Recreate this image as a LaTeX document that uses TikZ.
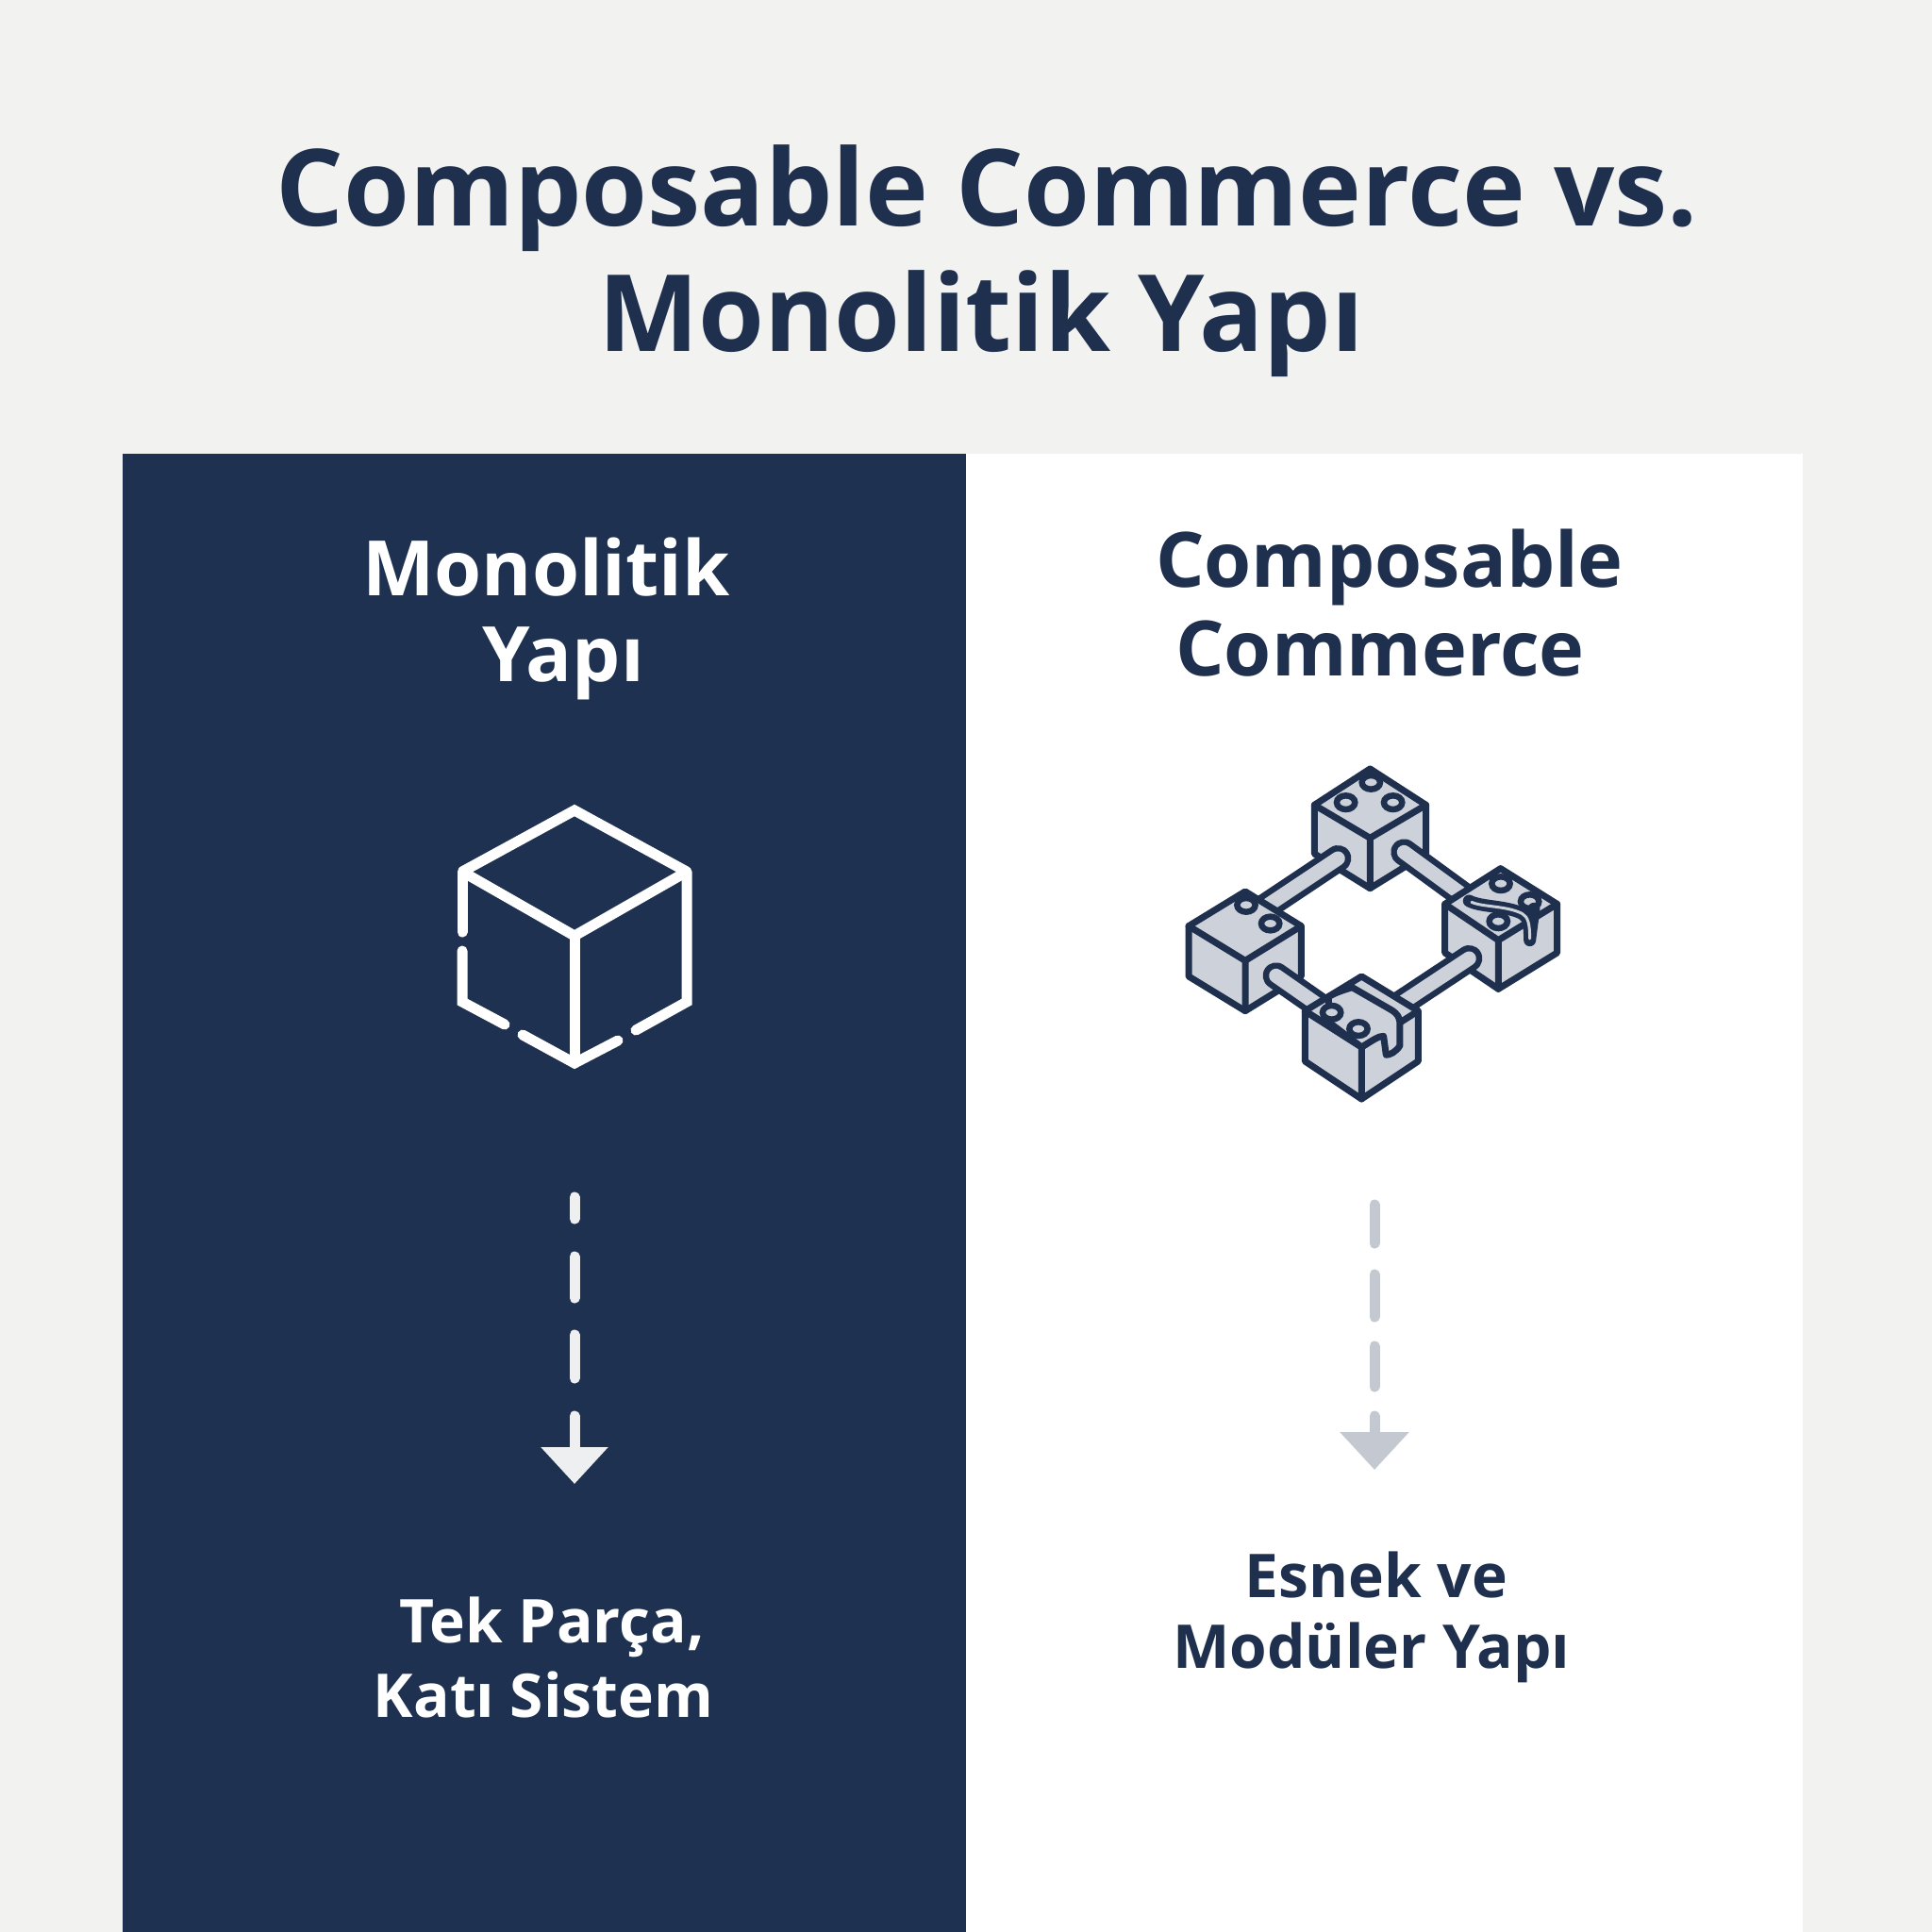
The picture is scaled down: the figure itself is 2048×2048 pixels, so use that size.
\documentclass[tikz,border=0pt]{standalone}
\usepackage{fontspec}
\usetikzlibrary{arrows.meta}
\setmainfont{Open Sans}
\definecolor{bgc}{HTML}{F2F2F1}
\definecolor{navy}{HTML}{1F3150}
\definecolor{ink}{HTML}{1F304F}
\definecolor{facec}{HTML}{CDD1D9}
\definecolor{arrowgray}{HTML}{C4C8D0}
\definecolor{arrowwhite}{HTML}{EEEFF1}
\newcommand{\cubeblock}[7]{%
 \draw[blockline,fill=facec] #1 -- #2 -- #3 -- #7 -- #5 -- #6 -- cycle;
 \draw[blockline] #1 -- #4 -- #3 #4 -- #5;
}
\newcommand{\studat}[1]{\draw[studline] #1 ellipse [x radius=29, y radius=22];}
\newcommand{\rodbetween}[2]{%
 \draw[rodouter] #1 -- #2;
 \draw[rodinner] #1 -- #2;
}
\tikzset{
 ttl/.style={font=\fontsize{113}{113}\selectfont\bfseries,text=ink,anchor=base,inner sep=0},
 hd/.style={font=\fontsize{81}{81}\selectfont\bfseries,anchor=base,inner sep=0},
 sub/.style={font=\fontsize{64}{64}\selectfont\bfseries,anchor=base,inner sep=0},
 whiteline/.style={draw=white,line width=11pt,line cap=round,line join=miter,miter limit=1.5},
 blockline/.style={draw=ink,line width=7pt,line join=round,line cap=round},
 studline/.style={draw=ink,line width=6.5pt,fill=facec},
 rodouter/.style={draw=ink,line width=28pt,line cap=round},
 rodinner/.style={draw=facec,line width=15pt,line cap=round},
 flowL/.style={draw=arrowwhite,line width=11pt,line cap=round,dash pattern=on 23pt off 40pt on 44pt off 39pt on 46pt off 40pt on 40pt},
 flowR/.style={draw=arrowgray,line width=11pt,line cap=round,dash pattern=on 41pt off 33pt on 45pt off 31pt on 43pt off 31pt on 40pt},
}
\begin{document}
\begin{tikzpicture}[x=1pt,y=-1pt]
\useasboundingbox (0,0) rectangle (2048,2048);
\fill[bgc] (0,0) rectangle (2048,2048);
\fill[navy] (130,481) rectangle (1024,2048);
\fill[white] (1024,481) rectangle (1911,2048);
\node[ttl] (t1) at (1046,239) {Composable Commerce vs.};
\node[ttl] (t2) at (1040,372) {Monolitik Yapı};
\node[hd,text=white] (l1) at (579,631) {Monolitik};
\node[hd,text=white] (l2) at (597,722) {Yapı};
\node[hd,text=ink] (r1) at (1473,622) {Composable};
\node[hd,text=ink] (r2) at (1463,716) {Commerce};
\node[sub,text=white] (l3) at (585,1741) {Tek Parça,};
\node[sub,text=white] (l4) at (576,1820) {Katı Sistem};
\node[sub,text=ink] (r3) at (1459,1693) {Esnek ve};
\node[sub,text=ink] (r4) at (1454,1768) {Modüler Yapı};
% monolith cube
\coordinate (cT) at (609,859);
\coordinate (cL) at (490,924);
\coordinate (cR) at (728,924);
\coordinate (cC) at (609,992);
\coordinate (cB) at (609,1127);
\coordinate (cLL) at (490,1062);
\coordinate (cRL) at (728,1062);
\draw[whiteline] (cL) -- (cT) -- (cR) -- (cC) -- cycle;
\draw[whiteline] (cC) -- (cB);
\draw[whiteline] (cL) -- (490,988);
\draw[whiteline] (490,1008) -- (cLL) -- (535,1086);
\draw[whiteline] (554,1097) -- (cB) -- (655,1103);
\draw[whiteline] (674,1092) -- (cRL) -- (cR);
% arrows
\coordinate (aL1) at (609,1269);
\coordinate (aL2) at (609,1573);
\draw[flowL,-{Triangle[width=69pt,length=39pt]}] (aL1) -- (aL2);
\coordinate (aR1) at (1457,1277);
\coordinate (aR2) at (1457,1558);
\draw[flowR,-{Triangle[width=71pt,length=40pt]}] (aR1) -- (aR2);
% composable icon (drawn in 3x crop units)
\begin{scope}[shift={(1220,790)},x=0.3333pt,y=-0.3333pt]
\coordinate (rTL) at (595,360);
\coordinate (rLT) at (340,530);
\coordinate (rTR) at (805,340);
\coordinate (rRT) at (990,475);
\coordinate (rLB) at (398,733);
\coordinate (rBL) at (530,825);
\coordinate (rRB) at (1012,678);
\coordinate (rBR) at (790,825);
\cubeblock{(520,190)}{(697,75)}{(875,190)}{(697,295)}{(697,455)}{(520,345)}{(875,345)}
\studat{(700,118)}\studat{(620,182)}\studat{(770,182)}
\rodbetween{(rTL)}{(rLT)}
\rodbetween{(rTR)}{(rRT)}
\cubeblock{(120,575)}{(300,465)}{(478,575)}{(300,685)}{(300,845)}{(120,735)}{(478,735)}
\studat{(303,508)}\studat{(380,567)}
\cubeblock{(935,505)}{(1112,392)}{(1292,505)}{(1105,620)}{(1105,775)}{(935,660)}{(1292,660)}
\studat{(1113,440)}\studat{(1205,497)}\studat{(1105,560)}
\draw[draw=ink,line width=13pt,line cap=round,line join=round] (1012,495) .. controls (1050,515) and (1130,510) .. (1180,535) .. controls (1200,545) and (1205,570) .. (1205,620) -- (1218,520);
\draw[draw=facec,line width=3pt,line cap=round,line join=round] (1020,499) .. controls (1055,515) and (1130,510) .. (1180,535) .. controls (1200,545) and (1205,570) .. (1205,615);
\rodbetween{(rLB)}{(rBL)}
\rodbetween{(rRB)}{(rBR)}
\cubeblock{(490,845)}{(670,735)}{(850,845)}{(670,960)}{(670,1125)}{(490,1005)}{(850,1005)}
\draw[blockline,fill=facec] (565,800) .. controls (590,785) and (610,780) .. (640,770) -- (765,842) .. controls (785,855) and (792,865) .. (792,890) -- (792,955) .. controls (780,975) and (760,985) .. (748,985) -- (740,925) .. controls (725,925) and (710,935) .. (670,960) -- (565,880) -- cycle;
\draw[blockline] (490,845) -- (670,960);
\studat{(575,850)}\studat{(660,902)}
\end{scope}
\end{tikzpicture}
\end{document}
